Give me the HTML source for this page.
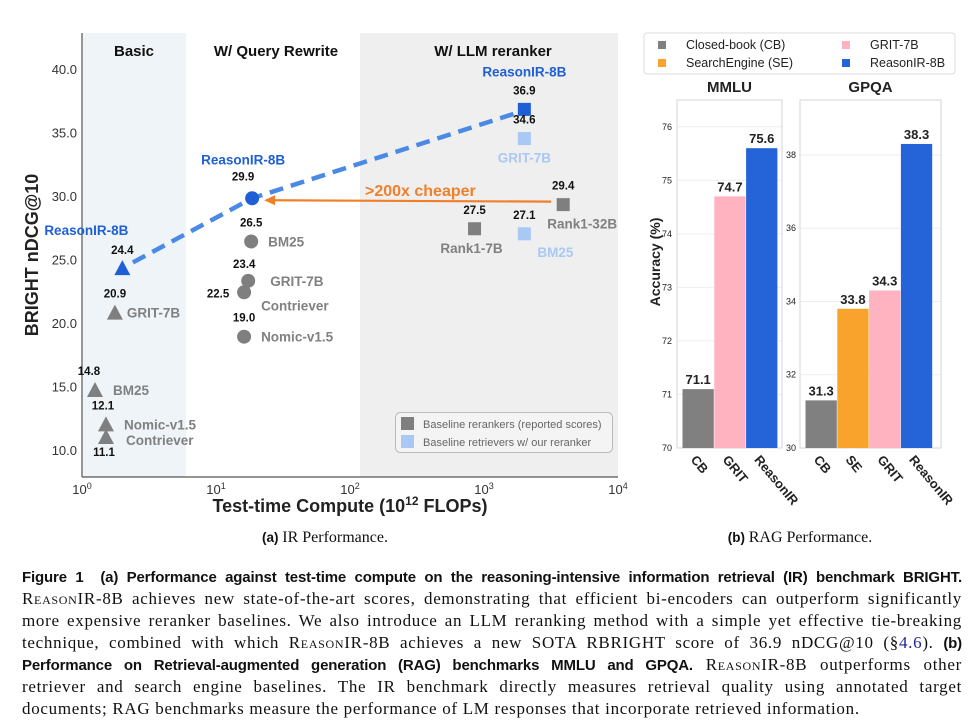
<!DOCTYPE html>
<html><head><meta charset="utf-8">
<style>
body{margin:0;background:#fff;width:979px;height:726px;overflow:hidden;position:relative;font-family:"Liberation Sans",sans-serif}
svg{position:absolute;left:0;top:0}
.cap{position:absolute;left:22px;width:940px;font-family:"Liberation Serif",serif;font-size:17px;letter-spacing:0.7px;color:#111;line-height:22px}
.ln{white-space:nowrap;text-align:justify;text-align-last:justify;height:22px}
.ln.last{text-align-last:left}
.b{font-family:"Liberation Sans",sans-serif;font-weight:bold;font-size:15px;letter-spacing:-0.15px}
.sc{font-variant:small-caps}
</style></head><body>
<svg id="fig" width="979" height="726" viewBox="0 0 979 726" font-family="Liberation Sans, sans-serif">
<g id="left"></g>
<g id="right"></g>
</svg>
<div class="cap" style="top:566px">
<div class="ln"><span class="b">Figure 1&nbsp; (a) Performance against test-time compute on the reasoning-intensive information retrieval (IR) benchmark BRIGHT.</span></div>
<div class="ln"><span class="sc">ReasonIR</span>-8B achieves new state-of-the-art scores, demonstrating that efficient bi-encoders can outperform significantly</div>
<div class="ln">more expensive reranker baselines. We also introduce an LLM reranking method with a simple yet effective tie-breaking</div>
<div class="ln">technique, combined with which <span class="sc">ReasonIR</span>-8B achieves a new SOTA RBRIGHT score of 36.9 nDCG@10 (§<span style="color:#22229a">4.6</span>). <span class="b">(b)</span></div>
<div class="ln"><span class="b">Performance on Retrieval-augmented generation (RAG) benchmarks MMLU and GPQA.</span> <span class="sc">ReasonIR</span>-8B outperforms other</div>
<div class="ln">retriever and search engine baselines. The IR benchmark directly measures retrieval quality using annotated target</div>
<div class="ln last">documents; RAG benchmarks measure the performance of LM responses that incorporate retrieved information.</div>
</div>
<script>
// ---------- IR chart data ----------
const irNames=["ReasonIR-8B","GRIT-7B","BM25","Nomic-v1.5","Contriever","ReasonIR-8B","BM25","GRIT-7B","Contriever","Nomic-v1.5","ReasonIR-8B","GRIT-7B","Rank1-32B","Rank1-7B","BM25"];
const irCompute=[2.0,1.76,1.25,1.51,1.51,18.6,18.3,17.4,16.2,16.2,2000,2000,3900,850,2000];
const irScores=[24.4,20.9,14.8,12.1,11.1,29.9,26.5,23.4,22.5,19.0,36.9,34.6,29.4,27.5,27.1];
const irKinds=["ours","base","base","base","base","ours","base","base","base","base","ours","light","base","base","light"];
const irShapes=["tri","tri","tri","tri","tri","cir","cir","cir","cir","cir","sq","sq","sq","sq","sq"];
const yTicks=[10,15,20,25,30,35,40];
const xTickExp=[0,1,2,3,4];
// label layout offsets (styling, not data): [valDx,valDy,nameDx,nameDy,nameAnchor]
const lay=[[0,-14,-36,-33,"middle"],[0,-15,12,5,"start"],[-6,-15,18,5,"start"],[-3,-15,18,5,"start"],[-2,19,20,8,"start"],[-9,-18,-9,-34,"middle"],[0,-15,17,5,"start"],[-4,-13,22,5,"start"],[-26,5,17,18,"start"],[0,-15,17,5,"start"],[0,-15,0,-33,"middle"],[0,-15,0,24,"middle"],[0,-15,19,24,"middle"],[0,-15,-3,24,"middle"],[0,-15,13,23,"start"]];

const NS="http://www.w3.org/2000/svg";
function el(tag,attrs,parent,txt){const e=document.createElementNS(NS,tag);for(const k in attrs)e.setAttribute(k,attrs[k]);if(txt!==undefined)e.textContent=txt;parent.appendChild(e);return e;}
const xPos=v=>82+134*Math.log10(v);
const yPos=v=>451-(v-10)*12.7;
const L=document.getElementById('left');
let r=el('rect',{x:82,y:33,width:104,height:444,fill:'#eef4f8'},L);


r=el('rect',{x:360,y:33,width:258,height:444,fill:'#efefef'},L);


el('line',{x1:82,y1:33,x2:82,y2:477,stroke:'#555','stroke-width':1.2},L);
el('line',{x1:82,y1:477,x2:618,y2:477,stroke:'#555','stroke-width':1.2},L);
const heads=[["Basic",134],["W/ Query Rewrite",276],["W/ LLM reranker",493]];
heads.forEach(h=>{const t=el('text',{x:h[1],y:56,'text-anchor':'middle','font-size':15,'font-weight':'bold',fill:'#111'},L,h[0]);

});
yTicks.forEach(v=>{const t=el('text',{x:77,y:yPos(v)+4,'text-anchor':'end','font-size':13,fill:'#333'},L,v.toFixed(1));

});
xTickExp.forEach(e=>{const x=82+134*e;const t=el('text',{x:x,y:494,'text-anchor':'middle','font-size':13,fill:'#333'},L);


el('tspan',{},t,'10');el('tspan',{dy:-5,'font-size':9},t,String(e));});
let t=el('text',{x:350,y:512,'text-anchor':'middle','font-size':18,'font-weight':'bold',fill:'#222'},L);


el('tspan',{},t,'Test-time Compute (10');el('tspan',{dy:-7,'font-size':12},t,'12');el('tspan',{dy:7},t,' FLOPs)');
t=el('text',{x:0,y:0,transform:'translate(38,255) rotate(-90)','text-anchor':'middle','font-size':18,'font-weight':'bold',fill:'#222'},L,'BRIGHT nDCG@10');


const ours=irKinds.map((k,i)=>k==='ours'?i:-1).filter(i=>i>=0).sort((a,b)=>irCompute[a]-irCompute[b]);
const pts=ours.map(i=>[xPos(irCompute[i]),yPos(irScores[i])]);
const a=pts[0],b=pts[1];const ang=Math.atan2(a[1]-b[1],a[0]-b[0]);
const endp=pts[pts.length-1];
let p=el('polyline',{points:[[a[0]+Math.cos(ang+Math.PI)*12,a[1]+Math.sin(ang+Math.PI)*12]].concat(pts.slice(1,-1)).concat([[endp[0]-9,endp[1]+4]]).map(q=>q.join(',')).join(' '),fill:'none',stroke:'#4a8ae6','stroke-width':4.5,'stroke-dasharray':'14 8'},L);


const iR=12,iQ=5;
const ax1=xPos(irCompute[iR])-12,ay1=yPos(irScores[iR])-3,ax2=xPos(irCompute[iQ])+12,ay2=yPos(irScores[iQ])+2;
p=el('line',{x1:ax1,y1:ay1,x2:ax2+8,y2:ay2,stroke:'#f07f2a','stroke-width':2.2},L);


el('polygon',{points:`${ax2},${ay2} ${ax2+11},${ay2-5} ${ax2+11},${ay2+5}`,fill:'#f07f2a'},L);
t=el('text',{x:365,y:196,'font-size':16,'font-weight':'bold',fill:'#f07f2a'},L,'>200x cheaper');


const col={ours:'#1f5fd6',base:'#7f7f7f',light:'#a9c8f4'};
const nameCol={ours:'#1f5fd6',base:'#808080',light:'#a9c8f4'};
irScores.forEach((s,i)=>{
  const x=xPos(irCompute[i]),y=yPos(s),c=col[irKinds[i]];let m;
  if(irShapes[i]==='tri')m=el('polygon',{points:`${x},${y-8} ${x-8},${y+7} ${x+8},${y+7}`,fill:c},L);
  else if(irShapes[i]==='cir')m=el('circle',{cx:x,cy:y,r:7,fill:c},L);
  else m=el('rect',{x:x-6.5,y:y-6.5,width:13,height:13,fill:c},L);
  
  
  const o=lay[i];
  const v=el('text',{x:x+o[0],y:y+o[1],'text-anchor':'middle','font-size':11.5,'font-weight':'bold',fill:'#111'},L,s.toFixed(1));
  
  
  const n=el('text',{x:x+o[2],y:y+o[3],'text-anchor':o[4],'font-size':13.5,'font-weight':'bold',fill:nameCol[irKinds[i]]},L,irNames[i]);
  
  
});
const lg=el('g',{},L);


el('rect',{x:395.5,y:412.5,width:217,height:40,rx:5,fill:'#f4f4f4',stroke:'#bbb'},lg);
el('rect',{x:401,y:417,width:13,height:13,fill:'#7f7f7f'},lg);
el('text',{x:423,y:428,'font-size':11,fill:'#666'},lg,'Baseline rerankers (reported scores)');
el('rect',{x:401,y:435,width:13,height:13,fill:'#a9c8f4'},lg);
el('text',{x:423,y:446,'font-size':11,fill:'#666'},lg,'Baseline retrievers w/ our reranker');
t=el('text',{x:325,y:542,'text-anchor':'middle','font-size':16,fill:'#111'},L);


el('tspan',{'font-weight':'bold','font-size':13.5},t,'(a) ');el('tspan',{'font-family':'Liberation Serif, serif'},t,' IR Performance.');

// ---------- RAG chart data ----------
const mmluCats=["CB","GRIT","ReasonIR"];
const mmluVals=[71.1,74.7,75.6];
const mmluTicks=[70,71,72,73,74,75,76];
const gpqaCats=["CB","SE","GRIT","ReasonIR"];
const gpqaVals=[31.3,33.8,34.3,38.3];
const gpqaTicks=[30,32,34,36,38];
const catColor={CB:'#808080',SE:'#f9a22c',GRIT:'#ffb3c1',ReasonIR:'#2563d9'};
const R=document.getElementById('right');
function panel(name,title,cats,vals,ticks,x0,x1,yMin,yMax,tickX){
  const g=el('g',{},R);
  
  
  const top=100,bot=448;
  const yp=v=>bot-(v-yMin)/(yMax-yMin)*(bot-top);
  ticks.forEach(v=>{el('line',{x1:x0,x2:x1,y1:yp(v),y2:yp(v),stroke:'#eee'},g);
    const tt=el('text',{x:tickX,y:yp(v)+3,'text-anchor':'middle','font-size':9,fill:'#222'},g,String(v));
    
    });
  el('rect',{x:x0,y:top,width:x1-x0,height:bot-top,fill:'none',stroke:'#ddd','stroke-width':1.2},g);
  const tl=el('text',{x:(x0+x1)/2,y:top-8,'text-anchor':'middle','font-size':15,'font-weight':'bold',fill:'#222'},g,title);
  
  
  const bw=31.3,bx0=x0+5.5;
  cats.forEach((c,i)=>{const x=bx0+i*(bw+0.5),y=yp(vals[i]);
    const br=el('rect',{x:x,y:y,width:bw,height:bot-y,fill:catColor[c]},g);
    
    
    const vt=el('text',{x:x+bw/2,y:y-5,'text-anchor':'middle','font-size':13,'font-weight':'bold',fill:'#222'},g,vals[i].toFixed(1));
    
    
    const ct=el('text',{x:0,y:0,transform:`translate(${x+bw/2-8},${bot+12}) rotate(50)`,'font-size':13,'font-weight':'bold',fill:'#222'},g,c);
    
    });
}
panel('mmlu','MMLU',mmluCats,mmluVals,mmluTicks,677,782,70,76.5,667);
panel('gpqa','GPQA',gpqaCats,gpqaVals,gpqaTicks,800,941,30,39.5,791);
t=el('text',{x:0,y:0,transform:'translate(660,262) rotate(-90)','text-anchor':'middle','font-size':14,'font-weight':'bold',fill:'#222'},R,'Accuracy (%)');


const lg2=el('g',{},R);


el('rect',{x:644,y:33,width:311,height:41,rx:3,fill:'#fff',stroke:'#ddd'},lg2);
const legItems=[["Closed-book (CB)",'#808080',658,49],["SearchEngine (SE)",'#f9a22c',658,67],["GRIT-7B",'#ffb3c1',842,49],["ReasonIR-8B",'#2563d9',842,67]];
legItems.forEach(l=>{el('rect',{x:l[2],y:l[3]-8,width:8,height:8,fill:l[1]},lg2);
  const lt=el('text',{x:l[2]+28,y:l[3],'font-size':12.5,fill:'#222'},lg2,l[0]);
  
  });
t=el('text',{x:800,y:542,'text-anchor':'middle','font-size':16,fill:'#111'},R);


el('tspan',{'font-weight':'bold','font-size':13.5},t,'(b) ');el('tspan',{'font-family':'Liberation Serif, serif'},t,' RAG Performance.');
</script>
</body></html>
